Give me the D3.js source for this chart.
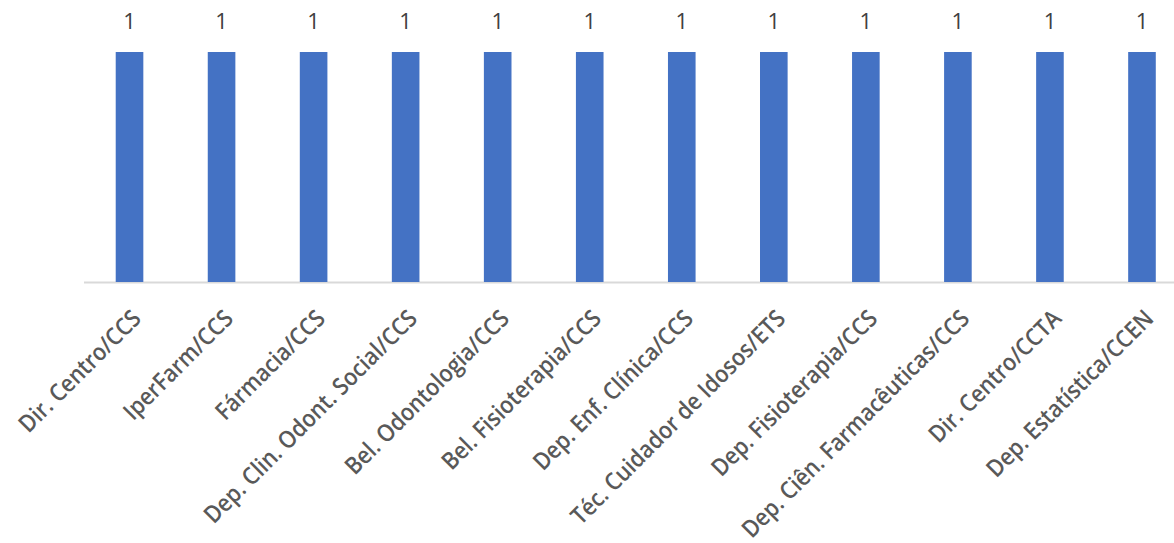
<!DOCTYPE html>
<html><head><meta charset="utf-8">
<script src="https://cdn.jsdelivr.net/npm/d3@7"></script>
<style>body{margin:0;background:#fff}</style>
</head><body>
<script>
const categories = ["Dir. Centro/CCS","IperFarm/CCS","Fármacia/CCS","Dep. Clin. Odont. Social/CCS","Bel. Odontologia/CCS","Bel. Fisioterapia/CCS","Dep. Enf. Clínica/CCS","Téc. Cuidador de Idosos/ETS","Dep. Fisioterapia/CCS","Dep. Ciên. Farmacêuticas/CCS","Dir. Centro/CCTA","Dep. Estatística/CCEN"];
const values = [1,1,1,1,1,1,1,1,1,1,1,1];

const W = 1174, H = 543;
const svg = d3.select("body").append("svg").attr("width", W).attr("height", H);
const x = d3.scaleBand().domain(categories).range([83.5, 1188]).paddingInner(0.7).paddingOuter(0.35);
const y = d3.scaleLinear().domain([0, 1]).range([282, 52]);

svg.append("line").attr("x1", 84).attr("x2", W).attr("y1", 282.5).attr("y2", 282.5)
  .attr("stroke", "#d9d9d9").attr("stroke-width", 2);

svg.selectAll("rect.bar").data(values).join("rect").attr("class","bar")
  .attr("x", (d,i) => x(categories[i])).attr("width", x.bandwidth())
  .attr("y", d => y(d)).attr("height", d => y(0) - y(d)).attr("fill", "#4472C4");

svg.selectAll("text.val").data(values).join("text").attr("class","val")
  .attr("x", (d,i) => x(categories[i]) + x.bandwidth()/2).attr("y", d => y(d) - 23)
  .attr("text-anchor","middle").attr("font-family","Open Sans, sans-serif").attr("font-size", 22)
  .attr("fill","#404040").text(d => d);

svg.selectAll("text.cat").data(categories).join("text").attr("class","cat")
  .attr("transform", d => `translate(${x(d) + x.bandwidth()/2 + 13},${320}) rotate(-45) scale(0.9,1)`)
  .attr("text-anchor","end").attr("font-family","'Open Sans', sans-serif").attr("font-weight", 600)
  .attr("font-size", 24).attr("fill","#595959").text(d => d);
</script>
</body></html>
